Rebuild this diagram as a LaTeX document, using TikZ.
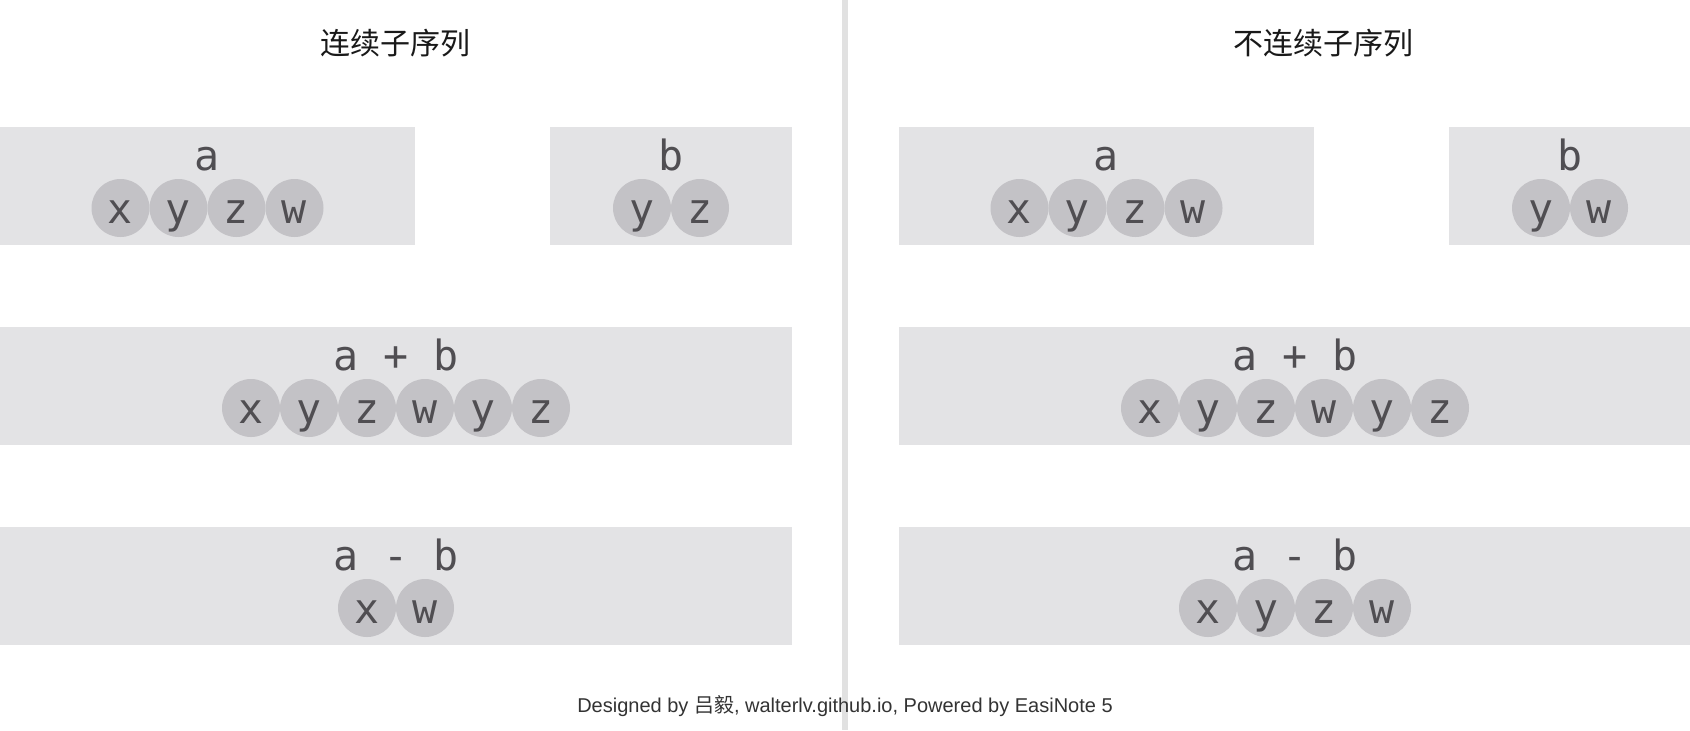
\documentclass[tikz,border=0pt]{standalone}
\usepackage{fontspec}
\setmainfont{Liberation Sans}
\newfontfamily\cjk{Noto Sans CJK SC}
\newfontfamily\mono{DejaVu Sans Mono}
\definecolor{boxgray}{RGB}{227,227,229}
\definecolor{dotgray}{RGB}{195,194,198}
\definecolor{ink}{RGB}{80,78,82}
\definecolor{divgray}{RGB}{225,225,225}

\begin{document}
\begin{tikzpicture}[x=0.5pt,y=-0.5pt,
  panel/.style={fill=boxgray,inner sep=0pt,minimum height=59pt},
  item/.style={circle,fill=dotgray,text=ink,inner sep=0pt,minimum size=29pt,
    text height=15pt,text depth=0pt,font=\mono\fontsize{20.8}{24}\selectfont},
  tag/.style={anchor=base,text=ink,inner sep=0pt,font=\mono\fontsize{20.8}{24}\selectfont},
  heading/.style={text=black!90,font=\cjk\fontsize{15}{18}\selectfont},
  credit/.style={anchor=base,text=black!80,font=\fontsize{10}{12}\selectfont}]

  % Canvas
  \useasboundingbox[fill=white] (0,0) rectangle (1690,730);

  % Divider between the two halves
  \fill[divgray] (842,0) rectangle (848,730);

  % Headings
  \node[heading] (chead) at (395,43) {连续子序列};
  \node[heading] (nhead) at (1323,43) {不连续子序列};

  % Panels: name/centre x/centre y/width/label/count/items
  \foreach \n/\cx/\cy/\w/\lab/\k/\seq in {
      ca/207.5/186/415/a/4/{x,y,z,w},
      cb/671/186/242/b/2/{y,z},
      csum/396/386/792/a + b/6/{x,y,z,w,y,z},
      cdiff/396/586/792/a - b/2/{x,w},
      na/1106.5/186/415/a/4/{x,y,z,w},
      nb/1570/186/242/b/2/{y,w},
      nsum/1295/386/792/a + b/6/{x,y,z,w,y,z},
      ndiff/1295/586/792/a - b/4/{x,y,z,w}}
  {
    \node[panel,minimum width=\w*0.5pt] (\n) at (\cx,\cy) {};
    \node[tag] (\n-lab) at (\cx,\cy-16) {\lab};
    \foreach \c [count=\i] in \seq
      \node[item] (\n-\i) at ({\cx+(\i-(\k+1)/2)*58},\cy+22) {\c};
  }

  % Footer
  \node[credit] (footer) at (845,712) {Designed by {\cjk 吕毅}, walterlv.github.io, Powered by EasiNote 5};

\end{tikzpicture}
\end{document}
